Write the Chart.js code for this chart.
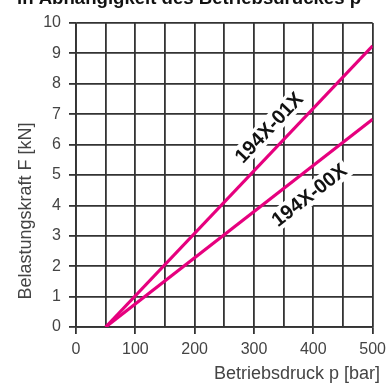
<!DOCTYPE html>
<html>
<head>
<meta charset="utf-8">
<script src="https://cdn.jsdelivr.net/npm/chart.js@4.4.0/dist/chart.umd.min.js"></script>
<style>
  html, body { margin: 0; padding: 0; background: #fff; }
  #wrap { width: 392px; height: 387px; position: relative; }
</style>
</head>
<body>
<div id="wrap"><canvas id="c" width="392" height="387"></canvas></div>
<script>
// ---- data ----
const pressure = [50, 500];          // Betriebsdruck p [bar]
const force01 = [0, 9.25];           // 194X-01X, F [kN]
const force00 = [0, 6.83];           // 194X-00X, F [kN]
const seriesNames = ['194X-01X', '194X-00X'];
const xTickValues = [0, 100, 200, 300, 400, 500];
const yTickValues = [0, 1, 2, 3, 4, 5, 6, 7, 8, 9, 10];

const titleText = 'in Abhängigkeit des Betriebsdruckes p';
const xTitle = 'Betriebsdruck p [bar]';
const yTitle = 'Belastungskraft F [kN]';

const FONT = '"Liberation Sans", Arial, Helvetica, sans-serif';
const MAGENTA = '#e6007e';
const GRID = '#333333';
const TEXT = '#444444';

function pts(xs, ys) { return xs.map((x, i) => ({ x: x, y: ys[i] })); }

const labelPlugin = {
  id: 'lineLabels',
  beforeDatasetsDraw(chart) {
    const ctx = chart.ctx;
    const xs = chart.scales.x, ys = chart.scales.y;
    const items = [
      { text: seriesNames[0], at: [325, 6.56], ys: force01 },
      { text: seriesNames[1], at: [393, 4.34], ys: force00 }
    ];
    ctx.save();
    ctx.font = 'bold 20px ' + FONT;
    items.forEach(it => {
      const x0 = xs.getPixelForValue(pressure[0]), y0 = ys.getPixelForValue(it.ys[0]);
      const x1 = xs.getPixelForValue(pressure[1]), y1 = ys.getPixelForValue(it.ys[1]);
      const ang = Math.atan2(y1 - y0, x1 - x0);
      const cx = xs.getPixelForValue(it.at[0]), cy = ys.getPixelForValue(it.at[1]);
      ctx.save();
      ctx.translate(cx, cy);
      ctx.rotate(ang);
      const w = ctx.measureText(it.text).width;
      const h = 15;
      ctx.fillStyle = '#ffffff';
      ctx.fillRect(-w / 2 - 3, -h / 2 - 3, w + 6, h + 6);
      ctx.fillStyle = '#111111';
      ctx.textAlign = 'center';
      ctx.textBaseline = 'middle';
      ctx.fillText(it.text, 0, 1);
      ctx.restore();
    });
    ctx.restore();
  },
  afterDraw(chart) {
    const ctx = chart.ctx;
    ctx.save();
    // top (cropped) title
    ctx.font = 'bold 18.6px ' + FONT;
    ctx.fillStyle = '#111111';
    ctx.textAlign = 'left';
    ctx.textBaseline = 'alphabetic';
    ctx.fillText(titleText, 17, 3.5);
    // axis titles
    ctx.font = '18px ' + FONT;
    ctx.fillStyle = TEXT;
    ctx.textAlign = 'right';
    ctx.fillText(xTitle, 380, 379);
    ctx.translate(31, 211);
    ctx.rotate(-Math.PI / 2);
    ctx.textAlign = 'center';
    ctx.fillText(yTitle, 0, 0);
    ctx.restore();
  }
};

new Chart(document.getElementById('c'), {
  type: 'line',
  data: {
    datasets: [
      { label: seriesNames[0], data: pts(pressure, force01), borderColor: MAGENTA, borderWidth: 3.2, pointRadius: 0, fill: false },
      { label: seriesNames[1], data: pts(pressure, force00), borderColor: MAGENTA, borderWidth: 3.2, pointRadius: 0, fill: false }
    ]
  },
  options: {
    responsive: false,
    animation: false,
    devicePixelRatio: 1,
    layout: { padding: { left: 0, right: 18, top: 23, bottom: 0 } },
    plugins: { legend: { display: false }, tooltip: { enabled: false }, title: { display: false } },
    scales: {
      x: {
        type: 'linear', min: 0, max: 500,
        afterFit(s) { s.height = 60; },
        ticks: {
          stepSize: 50, padding: 6,
          color: TEXT, font: { family: FONT, size: 16 },
          maxRotation: 0, autoSkip: false,
          callback: v => xTickValues.includes(v) ? String(v) : ''
        },
        grid: {
          color: GRID, lineWidth: 1.8, tickLength: 7,
          tickColor: c => (c.tick && xTickValues.includes(c.tick.value)) ? GRID : 'rgba(0,0,0,0)'
        },
        border: { color: GRID, width: 1.8 }
      },
      y: {
        type: 'linear', min: 0, max: 10,
        afterFit(s) { s.width = 76; },
        ticks: {
          stepSize: 1, padding: 8,
          color: TEXT, font: { family: FONT, size: 16 },
          callback: v => yTickValues.includes(v) ? String(v) : ''
        },
        grid: { color: GRID, lineWidth: 1.8, tickLength: 7, tickColor: GRID },
        border: { color: GRID, width: 1.8 }
      }
    }
  },
  plugins: [labelPlugin]
});
</script>
</body>
</html>
